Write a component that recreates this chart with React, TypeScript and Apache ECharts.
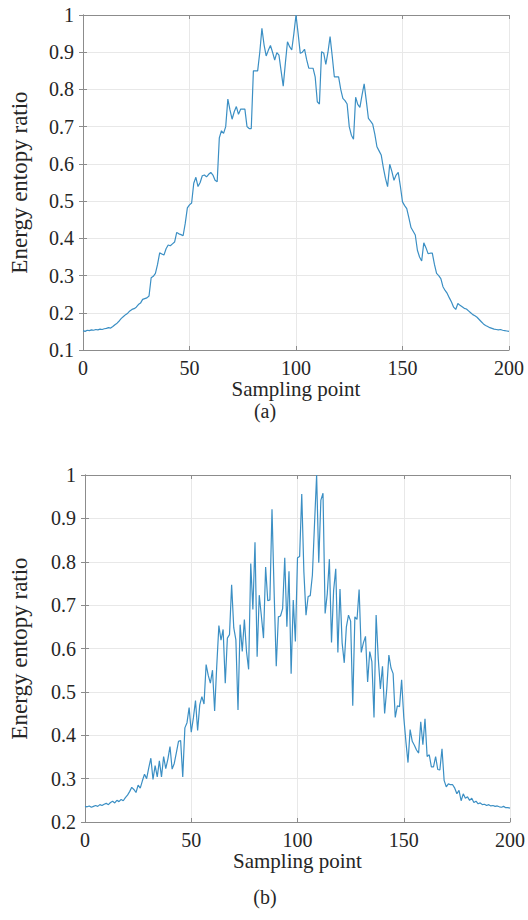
import React, { useEffect, useRef } from "react";
import * as echarts from "echarts";

// Sampling points 0..200
const samplingPoints: number[] = Array.from({ length: 201 }, (_, i) => i);

// (a) energy entropy ratio
const ratioA: number[] = [
  0.152, 0.150, 0.153, 0.152, 0.154, 0.153, 0.155, 0.154, 0.156, 0.155,
  0.157, 0.158, 0.160, 0.159, 0.163, 0.168, 0.172, 0.178, 0.185, 0.190,
  0.195, 0.199, 0.205, 0.209, 0.211, 0.215, 0.222, 0.226, 0.236, 0.238,
  0.240, 0.245, 0.294, 0.298, 0.306, 0.330, 0.361, 0.358, 0.355, 0.372,
  0.382, 0.380, 0.385, 0.390, 0.416, 0.412, 0.410, 0.407, 0.440, 0.482,
  0.490, 0.495, 0.548, 0.564, 0.539, 0.550, 0.568, 0.570, 0.565, 0.572,
  0.577, 0.570, 0.556, 0.552, 0.670, 0.689, 0.682, 0.700, 0.774, 0.745,
  0.720, 0.740, 0.754, 0.733, 0.747, 0.747, 0.747, 0.700, 0.695, 0.695,
  0.850, 0.850, 0.850, 0.900, 0.964, 0.920, 0.890, 0.905, 0.918, 0.900,
  0.879, 0.899, 0.892, 0.850, 0.809, 0.870, 0.928, 0.915, 0.906, 0.950,
  1.000, 0.950, 0.897, 0.900, 0.908, 0.880, 0.857, 0.857, 0.857, 0.834,
  0.767, 0.761, 0.901, 0.898, 0.867, 0.900, 0.942, 0.890, 0.834, 0.834,
  0.834, 0.800, 0.776, 0.770, 0.761, 0.700, 0.677, 0.666, 0.779, 0.760,
  0.752, 0.785, 0.815, 0.770, 0.722, 0.715, 0.707, 0.680, 0.646, 0.635,
  0.624, 0.590, 0.561, 0.539, 0.599, 0.580, 0.556, 0.570, 0.577, 0.540,
  0.498, 0.488, 0.480, 0.455, 0.429, 0.419, 0.409, 0.368, 0.350, 0.339,
  0.388, 0.375, 0.359, 0.360, 0.360, 0.330, 0.306, 0.300, 0.292, 0.270,
  0.260, 0.252, 0.240, 0.229, 0.215, 0.209, 0.225, 0.220, 0.216, 0.212,
  0.210, 0.205, 0.200, 0.195, 0.192, 0.188, 0.182, 0.176, 0.170, 0.166,
  0.163, 0.160, 0.158, 0.156, 0.155, 0.154, 0.155, 0.153, 0.152, 0.151,
  0.150,
];

// (b) energy entropy ratio
const ratioB: number[] = [
  0.236, 0.235, 0.237, 0.234, 0.236, 0.238, 0.236, 0.240, 0.238, 0.241,
  0.243, 0.240, 0.245, 0.248, 0.244, 0.250, 0.247, 0.252, 0.249, 0.256,
  0.262, 0.270, 0.280, 0.275, 0.268, 0.285, 0.278, 0.295, 0.310, 0.300,
  0.325, 0.347, 0.298, 0.330, 0.304, 0.341, 0.304, 0.351, 0.323, 0.345,
  0.374, 0.322, 0.335, 0.360, 0.386, 0.388, 0.304, 0.417, 0.429, 0.464,
  0.407, 0.440, 0.480, 0.411, 0.470, 0.489, 0.472, 0.563, 0.538, 0.520,
  0.550, 0.456, 0.560, 0.653, 0.619, 0.644, 0.520, 0.624, 0.632, 0.747,
  0.648, 0.620, 0.458, 0.655, 0.593, 0.667, 0.593, 0.552, 0.796, 0.690,
  0.845, 0.581, 0.723, 0.675, 0.624, 0.788, 0.710, 0.712, 0.921, 0.730,
  0.559, 0.673, 0.675, 0.692, 0.809, 0.650, 0.778, 0.542, 0.712, 0.616,
  0.809, 0.812, 0.956, 0.777, 0.677, 0.720, 0.722, 0.769, 0.886, 1.000,
  0.798, 0.942, 0.958, 0.681, 0.726, 0.806, 0.614, 0.734, 0.784, 0.591,
  0.737, 0.613, 0.567, 0.650, 0.677, 0.663, 0.468, 0.673, 0.667, 0.736,
  0.591, 0.613, 0.628, 0.523, 0.593, 0.570, 0.441, 0.677, 0.577, 0.507,
  0.559, 0.450, 0.507, 0.585, 0.555, 0.542, 0.441, 0.468, 0.466, 0.528,
  0.442, 0.386, 0.337, 0.413, 0.386, 0.377, 0.366, 0.359, 0.431, 0.378,
  0.438, 0.351, 0.355, 0.327, 0.327, 0.351, 0.321, 0.320, 0.369, 0.296,
  0.281, 0.288, 0.286, 0.286, 0.278, 0.265, 0.273, 0.249, 0.265, 0.255,
  0.258, 0.250, 0.255, 0.245, 0.248, 0.242, 0.244, 0.240, 0.241, 0.238,
  0.240, 0.237, 0.238, 0.236, 0.237, 0.235, 0.234, 0.236, 0.233, 0.233,
  0.232,
];

const captions = ["(a)", "(b)"];
const xName = "Sampling point";
const yName = "Energy entopy ratio";

const FONT = "'Liberation Serif', serif";
const TEXT = "#262626";
const BOX = "#8c8c8c";
const GRIDLINE = "#e8e8e8";
const LINE = "#3b8fc4";

export default function App() {
  const ref = useRef<HTMLDivElement>(null);

  useEffect(() => {
    if (!ref.current) return;
    const chart = echarts.init(ref.current, null, { renderer: "svg" });

    const grids = [
      { left: 83, right: 19, top: 15, height: 335 },
      { left: 82, right: 15, top: 475, height: 347 },
    ];
    const yRanges = [
      { min: 0.1, max: 1 },
      { min: 0.2, max: 1 },
    ];
    const xNameGaps = [20, 26];
    const yNameGaps = [52, 54];

    const xAxes: any[] = [];
    const yAxes: any[] = [];
    grids.forEach((_, g) => {
      xAxes.push({
        type: "value",
        gridIndex: g,
        min: 0,
        max: 200,
        interval: 50,
        position: "bottom",
        name: xName,
        nameLocation: "middle",
        nameGap: xNameGaps[g],
        nameTextStyle: { fontFamily: FONT, fontSize: 21, color: TEXT },
        axisLine: { show: true, lineStyle: { color: BOX, width: 1 } },
        axisTick: { show: true, inside: true, length: 4, lineStyle: { color: BOX } },
        axisLabel: { fontFamily: FONT, fontSize: 20, color: TEXT, margin: 8 },
        splitLine: { show: true, lineStyle: { color: GRIDLINE, width: 1 } },
      });
      xAxes.push({
        type: "value",
        gridIndex: g,
        min: 0,
        max: 200,
        interval: 50,
        position: "top",
        axisLine: { show: true, lineStyle: { color: BOX, width: 1 } },
        axisTick: { show: true, inside: true, length: 4, lineStyle: { color: BOX } },
        axisLabel: { show: false },
        splitLine: { show: false },
      });
      yAxes.push({
        type: "value",
        gridIndex: g,
        min: yRanges[g].min,
        max: yRanges[g].max,
        interval: 0.1,
        position: "left",
        name: yName,
        nameLocation: "middle",
        nameGap: yNameGaps[g],
        nameTextStyle: { fontFamily: FONT, fontSize: 23, color: TEXT },
        axisLine: { show: true, lineStyle: { color: BOX, width: 1 } },
        axisTick: { show: true, inside: true, length: 4, lineStyle: { color: BOX } },
        axisLabel: {
          fontFamily: FONT,
          fontSize: 20,
          color: TEXT,
          margin: 9,
          formatter: (v: number) => String(Math.round(v * 10) / 10),
        },
        splitLine: { show: true, lineStyle: { color: GRIDLINE, width: 1 } },
      });
      yAxes.push({
        type: "value",
        gridIndex: g,
        min: yRanges[g].min,
        max: yRanges[g].max,
        interval: 0.1,
        position: "right",
        axisLine: { show: true, lineStyle: { color: BOX, width: 1 } },
        axisTick: { show: true, inside: true, length: 4, lineStyle: { color: BOX } },
        axisLabel: { show: false },
        splitLine: { show: false },
      });
    });

    const series = [ratioA, ratioB].map((vals, g) => ({
      type: "line",
      xAxisIndex: g * 2,
      yAxisIndex: g * 2,
      data: samplingPoints.map((x, i) => [x, vals[i]]),
      showSymbol: false,
      symbol: "none",
      lineStyle: { color: LINE, width: 1.2 },
    }));

    chart.setOption({
      animation: false,
      backgroundColor: "#ffffff",
      grid: grids,
      xAxis: xAxes,
      yAxis: yAxes,
      series,
      graphic: [
        {
          type: "text",
          x: 265,
          y: 411,
          style: {
            text: captions[0],
            fontFamily: FONT,
            fontSize: 20,
            fill: TEXT,
            align: "center",
            verticalAlign: "middle",
          },
        },
        {
          type: "text",
          x: 265,
          y: 897,
          style: {
            text: captions[1],
            fontFamily: FONT,
            fontSize: 20,
            fill: TEXT,
            align: "center",
            verticalAlign: "middle",
          },
        },
      ],
    });

    return () => chart.dispose();
  }, []);

  return (
    <div
      ref={ref}
      style={{ position: "fixed", left: 0, top: 0, width: 528, height: 920 }}
    />
  );
}
